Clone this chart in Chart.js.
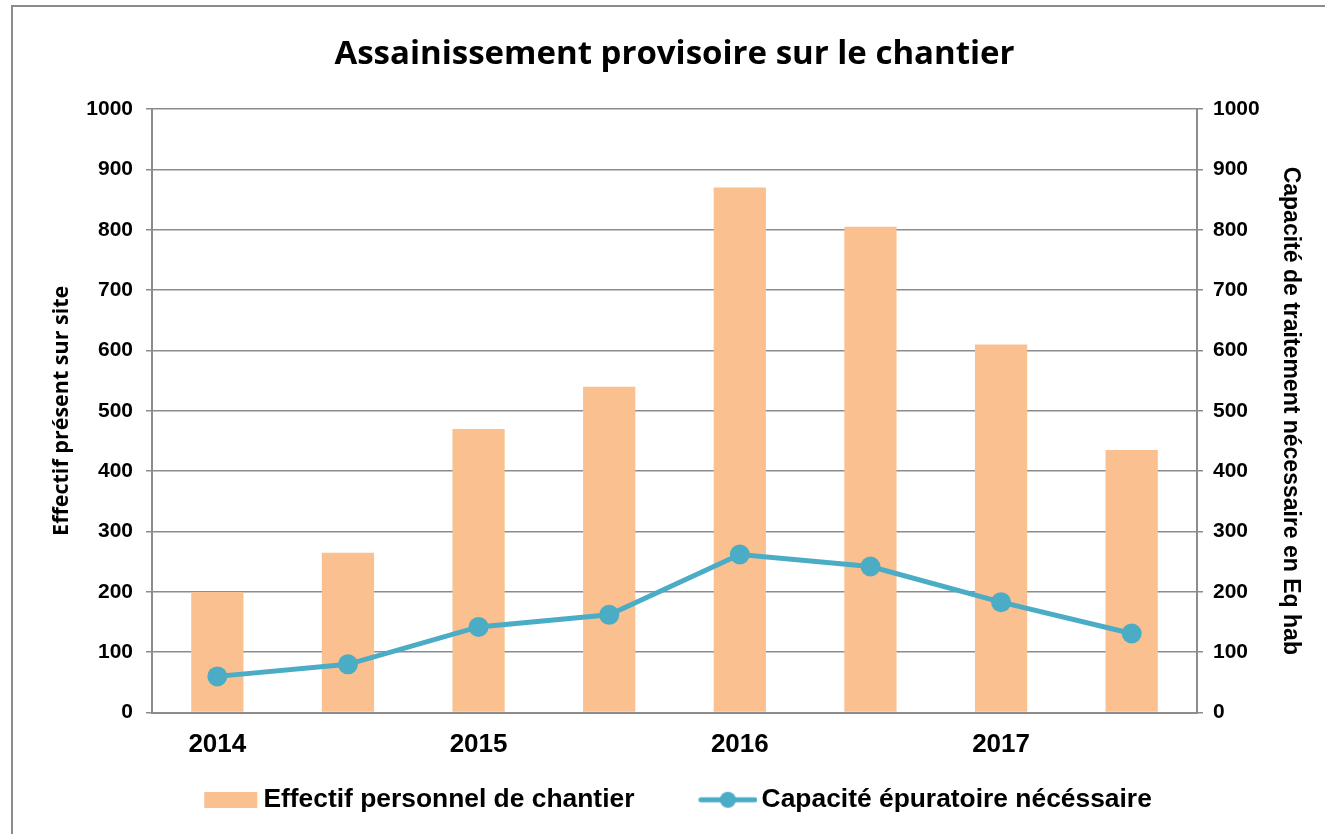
<!DOCTYPE html>
<html>
<head>
<meta charset="utf-8">
<script src="https://cdn.jsdelivr.net/npm/chart.js@4.4.0/dist/chart.umd.min.js"></script>
<style>
  html, body { margin: 0; padding: 0; background: #fff; }
  #wrap { width: 1325px; height: 834px; }
</style>
</head>
<body>
<div id="wrap"><canvas id="chart"></canvas></div>
<script>
// Données
const categories = ['2014', '', '2015', '', '2016', '', '2017', ''];
const effectif = [200, 265, 470, 540, 870, 805, 610, 435];
const capacite = [60, 80, 142, 162, 262, 242, 183, 131];
const yTicks = [0, 100, 200, 300, 400, 500, 600, 700, 800, 900, 1000];

const ORANGE = '#FAC090';
const BLEU = '#4BACC6';
const GRIS = '#8C8C8C';

// Largeur de la case de légende (l'image déborde de 9 px de chaque côté)
const LEG_BOX = 85;

// Petites images pour la légende
function legendeBarre() {
    const c = document.createElement('canvas');
    c.width = LEG_BOX + 18; c.height = 16;
    const g = c.getContext('2d');
    g.fillStyle = ORANGE;
    g.fillRect(48, 0, 53, 16);
    return c;
}
function legendeLigne() {
    const c = document.createElement('canvas');
    c.width = LEG_BOX + 18; c.height = 20;
    const g = c.getContext('2d');
    g.strokeStyle = BLEU;
    g.lineWidth = 5;
    g.lineCap = 'round';
    g.beginPath(); g.moveTo(46.5, 10); g.lineTo(100.5, 10); g.stroke();
    g.fillStyle = BLEU;
    g.beginPath(); g.arc(73.5, 10, 8, 0, Math.PI * 2); g.fill();
    return c;
}
const imgBarre = legendeBarre();
const imgLigne = legendeLigne();

// Fond blanc + cadre gris (haut et gauche)
const cadre = {
    id: 'cadre',
    beforeDraw(chart) {
        const ctx = chart.ctx;
        ctx.save();
        ctx.fillStyle = '#fff';
        ctx.fillRect(0, 0, chart.width, chart.height);
        ctx.strokeStyle = GRIS;
        ctx.lineWidth = 2;
        ctx.beginPath();
        ctx.moveTo(12, chart.height);
        ctx.lineTo(12, 6);
        ctx.lineTo(chart.width, 6);
        ctx.stroke();
        ctx.restore();
    }
};

const tickFont = { family: 'Liberation Sans, Arial, sans-serif', size: 21, weight: 'bold' };

new Chart(document.getElementById('chart'), {
    type: 'bar',
    data: {
        labels: categories,
        datasets: [{
            type: 'bar',
            label: 'Effectif personnel de chantier',
            data: effectif,
            backgroundColor: ORANGE,
            barPercentage: 0.4,
            categoryPercentage: 1,
            yAxisID: 'y',
            order: 1
        }, {
            type: 'line',
            label: 'Capacité épuratoire nécéssaire',
            data: capacite,
            borderColor: BLEU,
            backgroundColor: BLEU,
            borderWidth: 5,
            pointRadius: 10,
            pointHoverRadius: 10,
            pointBackgroundColor: BLEU,
            pointBorderWidth: 0,
            tension: 0,
            yAxisID: 'y1',
            order: 0
        }]
    },
    options: {
        responsive: true,
        maintainAspectRatio: false,
        animation: false,
        layout: { padding: { left: 0, right: 8, top: 0, bottom: 11 } },
        scales: {
            x: {
                grid: { display: false, drawTicks: false },
                border: { display: true, color: GRIS, width: 2 },
                ticks: {
                    color: '#000',
                    font: { family: 'Liberation Sans, Arial, sans-serif', size: 26, weight: 'bold' },
                    padding: 17,
                    maxRotation: 0,
                    autoSkip: false
                },
                afterFit(scale) { scale.height = 45; }
            },
            y: {
                position: 'left',
                min: 0,
                max: 1000,
                afterBuildTicks(scale) { scale.ticks = yTicks.map(v => ({ value: v })); },
                grid: { color: GRIS, lineWidth: 1.5, tickLength: 6 },
                border: { color: GRIS, width: 2 },
                ticks: { color: '#000', font: tickFont, padding: 13, callback: v => String(v) },
                title: {
                    display: true,
                    text: 'Effectif présent sur site',
                    color: '#000',
                    font: { family: 'Open Sans, sans-serif', size: 21.5, weight: 'bold' },
                    padding: { top: 49, bottom: 0 }
                },
                afterFit(scale) { scale.width = 152; }
            },
            y1: {
                position: 'right',
                min: 0,
                max: 1000,
                afterBuildTicks(scale) { scale.ticks = yTicks.map(v => ({ value: v })); },
                grid: { drawOnChartArea: false, color: GRIS, lineWidth: 1.5, tickLength: 6 },
                border: { color: GRIS, width: 2 },
                ticks: { color: '#000', font: tickFont, padding: 10, callback: v => String(v) },
                title: {
                    display: true,
                    text: 'Capacité de traitement nécessaire en Eq hab',
                    color: '#000',
                    font: { family: 'Liberation Sans, Arial, sans-serif', size: 23, weight: 'bold' },
                    padding: { top: 13, bottom: 0 }
                },
                afterFit(scale) { scale.width = 120; }
            }
        },
        plugins: {
            title: {
                display: true,
                fullSize: false,
                text: 'Assainissement provisoire sur le chantier',
                color: '#000',
                font: { family: 'Open Sans, sans-serif', size: 33, weight: 'bold', lineHeight: 1.2 },
                padding: { top: 35, bottom: 34.4 }
            },
            legend: {
                position: 'bottom',
                labels: {
                    color: '#000',
                    font: { family: 'Liberation Sans, Arial, sans-serif', size: 26.4, weight: 'bold' },
                    usePointStyle: true,
                    pointStyleWidth: LEG_BOX,
                    padding: 29,
                    sort: (a, b) => a.datasetIndex - b.datasetIndex,
                    generateLabels(chart) {
                        const items = Chart.defaults.plugins.legend.labels.generateLabels(chart);
                        items.forEach(it => {
                            it.pointStyle = it.datasetIndex === 0 ? imgBarre : imgLigne;
                        });
                        return items;
                    }
                }
            },
            tooltip: { enabled: false }
        }
    },
    plugins: [cadre]
});
</script>
</body>
</html>
